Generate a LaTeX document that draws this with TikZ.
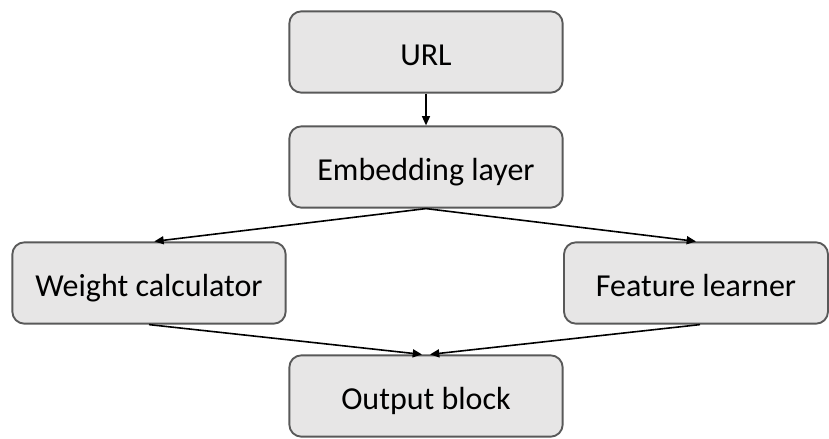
\documentclass[tikz,border=0pt]{standalone}
\usepackage{fontspec}
\setmainfont{Carlito}
\usepackage{xcolor}
\usetikzlibrary{arrows.meta}

\definecolor{boxfill}{HTML}{E7E6E6}
\definecolor{boxline}{HTML}{595959}

\tikzset{
    block/.style={draw=boxline, fill=boxfill, line width=1.4pt, rounded corners=9pt,
        minimum width=205pt, minimum height=61pt, text height=20pt, text depth=0pt,
        font=\fontsize{24}{28}\selectfont},
    flow/.style={-{Triangle[length=7pt, width=6pt]}, line width=1.2pt, black}
}

\begin{document}
\begin{tikzpicture}[x=0.75pt, y=-0.75pt]
            \useasboundingbox (0,0) rectangle (829,439);

            \node[block] (url) at (426,52) {URL};
            \node[block] (embed) at (426,167) {Embedding layer};
            \node[block] (weight) at (149,283) {Weight calculator};
            \node[block, minimum width=198pt] (feature) at (696,283) {Feature learner};
            \node[block] (output) at (426,396) {Output block};

            \draw[flow] (url.south) -- (embed.north);
            \draw[flow] (embed.south) -- ([xshift=4pt]weight.north);
            \draw[flow] (embed.south) -- (feature.north);

            % both branches meet at the output block
            \draw[flow] (weight.south) -- ([xshift=-3pt]output.north);
            \draw[flow] ([xshift=3pt]feature.south) -- ([xshift=3pt]output.north);

        \end{tikzpicture}
\end{document}
